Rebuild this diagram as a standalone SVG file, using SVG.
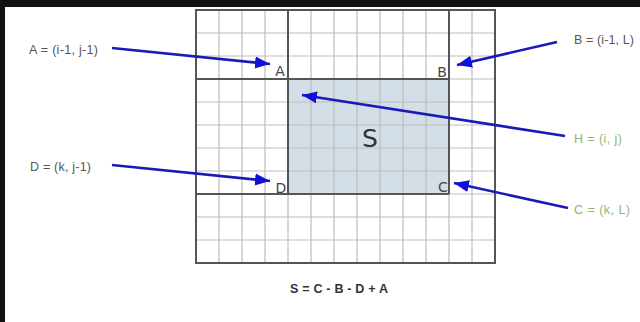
<svg xmlns="http://www.w3.org/2000/svg" width="640" height="322" viewBox="0 0 640 322">
<defs>
<style>
.lbl{font-family:"Liberation Sans",Arial,sans-serif;font-size:12.5px;fill:#555}
.grn{fill:#8fb86c}
.corner{font-family:"DejaVu Sans","Liberation Sans",sans-serif;font-size:14px;fill:#444}
.thin{stroke:#bdbdbd;stroke-width:1.2;fill:none}
.thick{stroke:#555;stroke-width:2;fill:none}
.arrow{stroke:#1a1ab8;stroke-width:2.6;fill:none;marker-end:url(#ah)}
.eq{font-family:"Liberation Sans",Arial,sans-serif;font-size:12.5px;font-weight:bold;fill:#333}
</style>
<marker id="ah" markerUnits="userSpaceOnUse" markerWidth="16" markerHeight="14" refX="15" refY="7" orient="auto">
<path d="M0,1 L15,7 L0,13 Z" fill="#1010d8"/>
</marker>
</defs>
<rect x="0" y="0" width="640" height="322" fill="#fff"/>
<rect x="0" y="0" width="640" height="7" fill="#111"/>
<rect x="0" y="0" width="5" height="322" fill="#111"/>

<g id="grid">
<rect x="288" y="79" width="161" height="115" fill="#d4dee7"/>
<path class="thin" d="M219,10V263M242,10V263M265,10V263M311,10V263M334,10V263M357,10V263M380,10V263M403,10V263M426,10V263M472,10V263M288,194V263M449,194V263
M196,33H495M196,56H495M196,102H495M196,125H495M196,148H495M196,171H495M196,217H495M196,240H495M449,79H495M449,194H495"/>
<path class="thick" d="M196,10H495V263H196Z M288,10V194 M449,10V194 M196,79H449 M196,194H449"/>
</g>

<g id="S"><text x="370" y="147" text-anchor="middle" font-family="DejaVu Sans,sans-serif" font-size="25" fill="#333">S</text></g>
<g id="cornerA"><text class="corner" x="280" y="76" text-anchor="middle">A</text></g>
<g id="cornerB"><text class="corner" x="442" y="77" text-anchor="middle">B</text></g>
<g id="cornerC"><text class="corner" x="443" y="192" text-anchor="middle">C</text></g>
<g id="cornerD"><text class="corner" x="281" y="193" text-anchor="middle">D</text></g>

<g id="labelA"><text class="lbl" x="29" y="54" textLength="69">A = (i-1, j-1)</text></g>
<g id="labelD"><text class="lbl" x="30" y="171" textLength="61">D = (k, j-1)</text></g>
<g id="labelB"><text class="lbl" x="574" y="44" textLength="60">B = (i-1, L)</text></g>
<g id="labelH"><text class="lbl grn" x="574" y="143" textLength="48">H = (i, j)</text></g>
<g id="labelC"><text class="lbl grn" x="574" y="214" textLength="56">C = (k, L)</text></g>
<g id="formula"><text class="eq" x="290" y="293" textLength="98">S = C - B - D + A</text></g>

<g id="connectors">
<line class="arrow" x1="112" y1="48" x2="270" y2="64"/>
<line class="arrow" x1="112" y1="165" x2="270" y2="181"/>
<line class="arrow" x1="557" y1="42" x2="457" y2="65"/>
<line class="arrow" x1="565" y1="136" x2="302" y2="95"/>
<line class="arrow" x1="568" y1="208" x2="454" y2="183"/>
</g>
</svg>
